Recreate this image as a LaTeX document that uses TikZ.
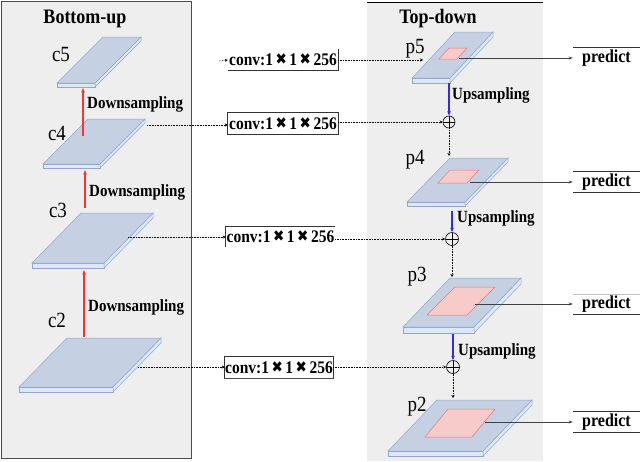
\documentclass[tikz,border=0pt]{standalone}
\usepackage{fontspec}
\usepackage{graphicx}
\setmainfont{Liberation Serif}
\newfontfamily\djv{DejaVu Sans}
\usetikzlibrary{calc,arrows.meta}
\definecolor{panel}{HTML}{EEEEEE}
\definecolor{slabfill}{HTML}{C5D0E3}
\definecolor{slabline}{HTML}{8FA8D2}
\definecolor{slabedge}{HTML}{DDE7F7}
\definecolor{redfill}{HTML}{F8CBCB}
\definecolor{redline}{HTML}{E07A7A}
\definecolor{uparrowc}{HTML}{FF3030}
\definecolor{downarrowc}{HTML}{2B2BFF}
\newcommand{\xx}{\raisebox{1pt}{\djv\fontsize{13.5}{13.5}\selectfont ✖}}
\newcommand{\vs}[1]{\scalebox{1}[1.14]{#1}}
\newcommand{\convtext}{\vs{conv:1\kern2.5pt\xx\kern2.5pt1\kern2.5pt\xx\kern2.5pt256}}
\newcommand{\slab}[6]{%
 \filldraw[slabedge,draw=slabline,line width=0.5pt] (#1,#2) -- ++(#3,0) -- ++(0,#6) -- ++(-#3,0) -- cycle;
 \filldraw[slabedge,draw=slabline,line width=0.5pt] (#1+#3,#2) -- ++(#4,-#5) -- ++(0,#6) -- ++(-#4,#5) -- cycle;
 \filldraw[slabfill,draw=slabline,line width=0.5pt] (#1,#2) -- ++(#3,0) -- ++(#4,-#5) -- ++(-#3,0) -- cycle;
}
\newcommand{\redrect}[5]{%
 \filldraw[redfill,draw=redline,line width=0.5pt] (#1,#2) -- ++(#3,0) -- ++(#4,-#5) -- ++(-#3,0) -- cycle;
}
\tikzset{
 title/.style={font=\fontsize{18}{20}\selectfont\bfseries, inner sep=0pt},
 lbl/.style={font=\fontsize{19}{20}\selectfont, inner sep=0pt},
 samp/.style={font=\fontsize{15}{16}\selectfont\bfseries, inner sep=0pt, anchor=west},
 conv/.style={font=\fontsize{15.5}{16}\selectfont\bfseries, inner sep=0pt, minimum height=21pt},
 pred/.style={font=\fontsize{16}{17}\selectfont\bfseries, inner sep=0pt, minimum width=67pt, minimum height=20pt},
 plus/.style={circle, draw, fill=panel, minimum size=12pt, inner sep=0pt, line width=0.6pt,
   path picture={\draw[line width=0.6pt] (path picture bounding box.north) -- (path picture bounding box.south)
     (path picture bounding box.west) -- (path picture bounding box.east);}},
 dotarr/.style={densely dotted, line width=0.6pt, -{Stealth[length=3pt,width=3pt]}},
 upar/.style={uparrowc, line width=1.1pt, -{Stealth[length=4.5pt,width=3.5pt]}},
 downar/.style={downarrowc, line width=1.1pt, -{Stealth[length=4.5pt,width=3.5pt]}},
 predarr/.style={line width=0.7pt, black!75, -{Stealth[length=4pt,width=3pt]}},
 boxline/.style={line width=0.7pt, black!80}
}
\begin{document}
\begin{tikzpicture}[x=1pt,y=-1pt]
\useasboundingbox (0,0) rectangle (640,461);
% panels
\filldraw[panel, draw=black!70, line width=1pt] (1,1) rectangle (191,458);
\fill[panel] (367,2) rectangle (543,461);
\draw[line width=0.8pt] (367,2) -- (543,2);
\node[title] (tbu) at (85,19) {\vs{Bottom-up}};
\node[title] (ttd) at (438,19) {\vs{Top-down}};
% bottom-up slabs
\slab{57}{83}{38}{46}{46}{4}
\slab{43}{164}{57}{45}{45}{4}
\slab{32}{263}{72}{49}{50}{5}
\slab{19}{387}{94}{48}{49}{5}
\node[lbl] (lc5) at (61,55) {\vs{c5}};
\node[lbl] (lc4) at (57,133) {\vs{c4}};
\node[lbl] (lc3) at (58,210) {\vs{c3}};
\node[lbl] (lc2) at (57,320) {\vs{c2}};
% top-down slabs
\slab{412}{78}{38}{43}{46}{5}
\slab{407}{202}{58}{43}{44}{4}
\slab{403}{327}{71}{47}{49}{6}
\slab{388}{451}{95}{49}{51}{5}
\redrect{439}{59}{18}{10}{11}
\redrect{438}{183}{29}{12}{13}
\redrect{427}{315}{40}{28}{28}
\redrect{425}{437}{47}{23}{28}
\node[lbl] (lp5) at (415,49) {\vs{p5}};
\node[lbl] (lp4) at (415,160) {\vs{p4}};
\node[lbl] (lp3) at (417,277) {\vs{p3}};
\node[lbl] (lp2) at (417,407) {\vs{p2}};
% coordinates
\coordinate (a1s) at (83,136); \coordinate (a1e) at (83,88);
\coordinate (a2s) at (85,208); \coordinate (a2e) at (85,170);
\coordinate (a3s) at (84,337); \coordinate (a3e) at (84,270);
\coordinate (c4out) at (147,125);
\coordinate (c3out) at (128,237);
\coordinate (c2out) at (138,367);
\coordinate (cv1tail) at (219,61);
\coordinate (p5in) at (423,60);
\coordinate (p5bot) at (449,83); \coordinate (p4top) at (449,156);
\coordinate (p4bot) at (452,211); \coordinate (p3top) at (452,277);
\coordinate (p3bot) at (453,334); \coordinate (p2top) at (453,398);
\coordinate (r5) at (459,58);
\coordinate (r4) at (470,182);
\coordinate (r3) at (475,304);
\coordinate (r2) at (485,422);
% bottom-up arrows
\draw[upar] (a1s) -- (a1e);
\draw[upar] (a2s) -- (a2e);
\draw[upar] (a3s) -- (a3e);
\node[samp] (ds1) at (87,104) {\vs{Downsampling}};
\node[samp] (ds2) at (89,192) {\vs{Downsampling}};
\node[samp] (ds3) at (88,307) {\vs{Downsampling}};
% conv boxes
\node[conv, minimum width=110pt] (cv1) at (283,60) {\convtext};
\node[conv, minimum width=110pt] (cv2) at (283,123.5) {\convtext};
\node[conv, minimum width=109pt, minimum height=20pt] (cv3) at (280.5,237) {\convtext};
\node[conv, minimum width=108pt] (cv4) at (279,367.5) {\convtext};
\draw[boxline] (cv1.north east) -- (cv1.south east) -- (cv1.south west);
\draw[boxline] (cv2.south west) rectangle (cv2.north east);
\draw[boxline] (cv3.north east) -- (cv3.north west) -- (cv3.south west);
\draw[boxline] (cv4.south west) rectangle (cv4.north east);
\draw[line width=1.4pt, black!70] ([yshift=-0.5pt]cv4.south west) -- ([yshift=-0.5pt]cv4.south east);
% plus nodes
\node[plus] (plus1) at (449,122) {};
\node[plus, minimum size=13pt] (plus2) at (452,239) {};
\node[plus, minimum size=13pt] (plus3) at (453,367) {};
% dotted connectors
\draw[dotarr] (cv1tail) -- (cv1.west);
\draw[dotarr] (cv1.east) -- (p5in);
\draw[dotarr] (c4out) -- (c4out -| cv2.west);
\draw[dotarr] (cv2.east |- plus1) -- (plus1.west);
\draw[dotarr] (c3out) -- (c3out -| cv3.west);
\draw[dotarr] (cv3.east |- plus2) -- (plus2.west);
\draw[dotarr] (c2out) -- (c2out -| cv4.west);
\draw[dotarr] (cv4.east |- plus3) -- (plus3.west);
\draw[dotarr] (plus1.south) -- (p4top);
\draw[dotarr] (plus2.south) -- (p3top);
\draw[dotarr] (plus3.south) -- (p2top);
% upsampling
\draw[downar] (p5bot) -- (plus1.north);
\draw[downar] (p4bot) -- (plus2.north);
\draw[downar] (p3bot) -- (plus3.north);
\node[samp] (us1) at (452,95) {\vs{Upsampling}};
\node[samp] (us2) at (457,218) {\vs{Upsampling}};
\node[samp] (us3) at (458,351) {\vs{Upsampling}};
% predict
\node[pred] (pr5) at (606.5,58) {\vs{predict}};
\node[pred] (pr4) at (606.5,182) {\vs{predict}};
\node[pred] (pr3) at (606.5,304.5) {\vs{predict}};
\node[pred] (pr2) at (606.5,422) {\vs{predict}};
\draw[boxline] (pr5.north west) -- (pr5.north east);
\draw[boxline] (pr4.north west) -- (pr4.north east);
\draw[boxline] (pr4.south west) -- (pr4.south east);
\draw[line width=0.7pt, black!25] (pr3.north west) -- (pr3.north east);
\draw[boxline] (pr3.south west) -- (pr3.south east);
\draw[boxline] (pr2.north west) -- (pr2.north east);
\draw[boxline] (pr2.south west) -- (pr2.south east);
\draw[predarr] (r5) -- (r5 -| pr5.west);
\draw[predarr] (r4) -- (r4 -| pr4.west);
\draw[predarr] (r3) -- (r3 -| pr3.west);
\draw[predarr] (r2) -- (r2 -| pr2.west);
\end{tikzpicture}
\end{document}
